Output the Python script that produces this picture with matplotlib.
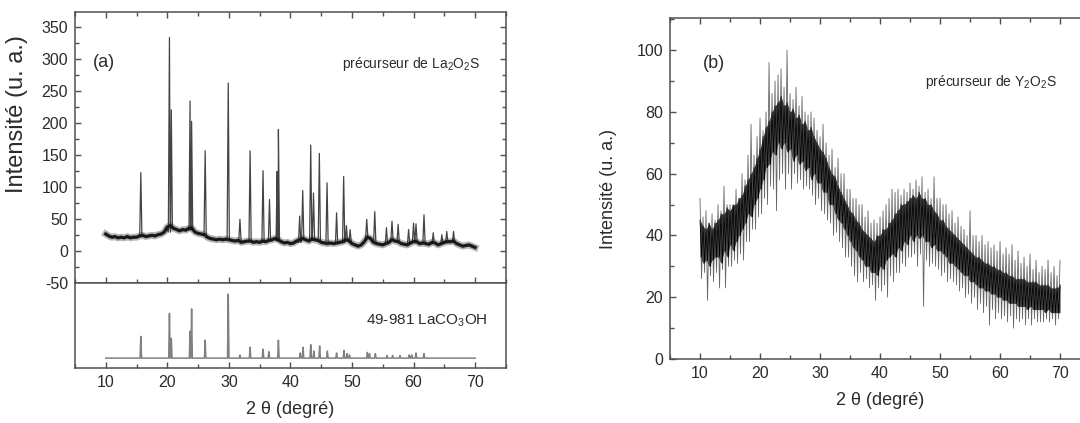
"""Diffractogrammes X des précurseurs La2O2S (a) et Y2O2S (b)."""

import matplotlib
matplotlib.use("Agg")
import matplotlib.pyplot as plt
from matplotlib.ticker import MultipleLocator
import numpy as np

plt.rcParams["font.family"] = ["Liberation Sans", "DejaVu Sans"]
plt.rcParams["mathtext.fontset"] = "custom"
plt.rcParams["mathtext.rm"] = "Liberation Sans"
plt.rcParams["mathtext.it"] = "Liberation Sans:italic"
plt.rcParams["axes.unicode_minus"] = False

TXT = "#2b2b2b"
AX = "#505050"

# ---- (a) précurseur de La2O2S : fond mesuré (pas de 0,5°) ----
base_x = np.arange(10, 70.01, 0.5)
base_y = [27, 24, 22, 23, 21, 22, 21, 23, 21, 22,
          22, 24, 25, 23, 24, 25, 24, 26, 27, 30,
          38, 40, 36, 34, 32, 34, 33, 36, 36, 30,
          28, 27, 26, 22, 20, 19, 18, 19, 18, 19,
          18, 17, 16, 17, 14, 15, 16, 16, 14, 15,
          14, 16, 15, 17, 18, 20, 18, 15, 13, 14,
          12, 13, 16, 18, 20, 18, 16, 19, 18, 17,
          14, 13, 12, 13, 12, 13, 14, 15, 18, 17,
          12, 10, 8, 10, 15, 22, 20, 14, 12, 11,
          10, 12, 14, 18, 16, 15, 12, 11, 10, 13,
          15, 15, 12, 13, 12, 11, 14, 13, 10, 12,
          14, 15, 15, 16, 12, 10, 8, 9, 10, 8,
          6]

# pics mesurés : position, sommet, niveau du pied
peak_x = [15.7, 20.35, 20.65, 23.7, 23.95, 26.15, 29.9, 31.8, 33.45, 35.55,
          36.6, 37.85, 38.05, 41.5, 42.0, 43.3, 43.75, 44.7, 45.95, 47.5,
          48.65, 49.1, 49.7, 52.4, 53.7, 55.6, 56.5, 57.5, 59.2, 60.0,
          60.4, 61.7, 63.2, 64.6, 65.4, 66.5]
peak_h = [123, 334, 221, 235, 203, 157, 263, 50, 157, 126,
          81, 125, 190, 55, 95, 166, 91, 153, 107, 60,
          117, 40, 34, 50, 62, 37, 47, 42, 34, 44,
          43, 57, 29, 26, 31, 31]
peak_foot = [23, 30, 36, 33, 34, 26, 19, 16, 15, 15,
             16, 17, 16, 14, 18, 18, 18, 16, 13, 12,
             14, 16, 14, 22, 15, 12, 18, 15, 12, 15,
             15, 14, 12, 12, 14, 14]

# fiche 49-981 LaCO3OH (intensités relatives)
ref_x = [15.7, 20.35, 20.65, 23.7, 23.95, 26.15, 29.9, 31.8, 33.45, 35.55,
         36.5, 38.05, 41.6, 42.05, 43.3, 43.8, 44.75, 46.0, 47.5, 48.7,
         49.2, 49.6, 52.5, 52.85, 53.8, 55.7, 56.6, 57.8, 59.3, 59.7,
         60.4, 61.7]
ref_h = [34, 70, 31, 42, 77, 28, 100, 5, 17, 14,
         10, 28, 8, 17, 21, 11, 19, 11, 8, 12,
         7, 5, 9, 7, 7, 4, 4, 4, 5, 5,
         8, 7]

# ---- (b) précurseur de Y2O2S (pas de 0,5°) ----
y_x = np.arange(10, 70.01, 0.5)
core_lo = [33, 31, 32, 30, 32, 33, 33, 31, 35, 33,
           37, 35, 38, 40, 42, 44, 47, 46, 50, 52,
           55, 58, 62, 63, 67, 66, 70, 68, 70, 67,
           68, 64, 66, 63, 64, 61, 62, 58, 60, 57,
           57, 54, 54, 50, 50, 47, 45, 44, 42, 40,
           38, 36, 35, 33, 32, 30, 30, 28, 28, 27,
           30, 29, 32, 33, 34, 33, 36, 35, 38, 37,
           40, 38, 40, 39, 40, 38, 38, 36, 37, 35,
           35, 34, 33, 31, 31, 30, 29, 28, 27, 27,
           25, 25, 24, 23, 23, 22, 22, 21, 21, 20,
           20, 19, 19, 18, 18, 18, 17, 17, 17, 16,
           17, 16, 16, 16, 16, 15, 16, 15, 15, 15,
           15]
core_hi = [45, 43, 42, 44, 42, 44, 45, 47, 47, 49,
           48, 50, 50, 52, 53, 56, 58, 60, 62, 65,
           68, 72, 75, 77, 80, 82, 83, 85, 82, 83,
           80, 81, 78, 79, 76, 77, 74, 75, 72, 70,
           68, 67, 65, 62, 60, 59, 56, 54, 52, 50,
           48, 47, 45, 44, 42, 41, 40, 39, 38, 40,
           40, 42, 42, 44, 45, 47, 48, 50, 50, 51,
           52, 53, 52, 54, 52, 52, 50, 50, 48, 47,
           45, 45, 43, 42, 41, 40, 39, 38, 37, 36,
           35, 34, 33, 33, 32, 31, 31, 30, 30, 29,
           29, 28, 28, 27, 27, 26, 26, 26, 26, 25,
           25, 25, 25, 24, 24, 24, 24, 23, 23, 23,
           24]
spike_hi = [52, 46, 48, 44, 47, 45, 50, 48, 56, 50,
            50, 48, 55, 52, 60, 58, 66, 76, 66, 72,
            78, 74, 80, 96, 86, 90, 92, 94, 88, 100,
            86, 84, 88, 82, 85, 80, 79, 80, 78, 74,
            72, 76, 70, 66, 68, 62, 65, 60, 60, 55,
            55, 52, 52, 50, 50, 46, 48, 44, 45, 44,
            46, 48, 50, 52, 55, 54, 55, 53, 55, 54,
            57, 55, 58, 56, 59, 54, 55, 52, 59, 52,
            52, 50, 50, 47, 48, 44, 46, 43, 42, 40,
            48, 40, 40, 38, 40, 37, 38, 36, 37, 35,
            38, 34, 36, 34, 37, 32, 35, 31, 33, 30,
            34, 29, 32, 28, 30, 29, 32, 28, 30, 27,
            32]
spike_lo = [26, 28, 19, 27, 25, 28, 23, 29, 23, 30,
            30, 32, 31, 34, 32, 38, 38, 42, 42, 46,
            47, 52, 50, 56, 55, 48, 58, 60, 55, 60,
            55, 60, 57, 58, 55, 56, 55, 53, 50, 52,
            48, 47, 45, 44, 40, 41, 38, 36, 33, 33,
            30, 27, 25, 28, 25, 26, 23, 24, 19, 23,
            22, 24, 20, 27, 25, 28, 28, 31, 30, 33,
            33, 34, 30, 34, 17, 32, 30, 31, 30, 29,
            27, 28, 25, 26, 25, 24, 22, 23, 20, 21,
            18, 20, 16, 18, 15, 17, 11, 16, 13, 15,
            13, 14, 12, 14, 10, 13, 12, 13, 11, 13,
            11, 13, 12, 12, 12, 13, 12, 13, 11, 13,
            14]


def build_trace(bx, by, px, ph, pf, w):
    """Assemble fond + pics étroits (triangles) en une seule polyligne."""
    pts = [(x, y) for x, y in zip(bx, by)
           if all(abs(x - p) > w for p in px)]
    for x, h, f in zip(px, ph, pf):
        pts += [(x - w, f), (x, h), (x + w, f)]
    pts.sort(key=lambda p: p[0])
    return [p[0] for p in pts], [p[1] for p in pts]


def zigzag(xs, hi, lo, step):
    """Trace bruité : alterne maximum (sur x) et minimum (sur x + step)."""
    zx, zy = [], []
    for x, h, l in zip(xs, hi, lo):
        zx += [x, x + step]
        zy += [h, l]
    return zx[:-1], zy[:-1]


def style_axis(ax):
    for sp in ax.spines.values():
        sp.set_color(AX)
        sp.set_linewidth(1.1)
    ax.tick_params(which="both", direction="in", colors=AX, labelcolor=TXT,
                   labelsize=11.5, width=1.0, pad=5)
    ax.tick_params(which="major", length=4)
    ax.tick_params(which="minor", length=3)


fig = plt.figure(figsize=(10.8, 4.23), dpi=100)

# ---- panneau (a), partie haute ----
ax_a = fig.add_axes([0.0694, 0.3303, 0.399, 0.6414])
tx, ty = build_trace(base_x, base_y, peak_x, peak_h, peak_foot, 0.18)
ax_a.plot(tx, ty, color="#444444", lw=0.9)
ax_a.plot(base_x, base_y, color="#333333", lw=5.0, alpha=0.35,
          solid_joinstyle="round")
ax_a.plot(base_x, base_y, color="#111111", lw=2.4, alpha=0.9,
          solid_joinstyle="round")
ax_a.set_xlim(5, 75)
ax_a.set_ylim(-50, 374)
ax_a.xaxis.set_major_locator(MultipleLocator(10))
ax_a.xaxis.set_minor_locator(MultipleLocator(5))
ax_a.yaxis.set_major_locator(MultipleLocator(50))
ax_a.yaxis.set_minor_locator(MultipleLocator(25))
style_axis(ax_a)
ax_a.tick_params(which="both", top=True, right=True, labelbottom=False)
ax_a.set_ylabel("Intensité (u. a.)", fontsize=17, color=TXT)
ax_a.yaxis.set_label_coords(-0.109, 0.624)
ax_a.text(7.9, 295, "(a)", fontsize=13, color=TXT, va="center")
ax_a.text(70.9, 293, r"précurseur de La$_2$O$_2$S", fontsize=10, color=TXT,
          ha="right", va="center")

# ---- panneau (a), fiche de référence ----
ax_r = fig.add_axes([0.0694, 0.1307, 0.399, 0.1995])
rx, ry = build_trace([10, 70], [0, 0], ref_x, ref_h, [0] * len(ref_x), 0.12)
ax_r.plot(rx, ry, color="#808080", lw=1.1)
ax_r.set_xlim(5, 75)
ax_r.set_ylim(-15, 117)
ax_r.xaxis.set_major_locator(MultipleLocator(10))
ax_r.xaxis.set_minor_locator(MultipleLocator(5))
ax_r.set_yticks([])
style_axis(ax_r)
ax_r.tick_params(which="both", left=False, right=False)
ax_r.set_xlabel("2 θ (degré)", fontsize=13, color=TXT, labelpad=8)
ax_r.text(52.2, 58, r"49-981 LaCO$_3$OH", fontsize=11, color=TXT, va="center")

# ---- panneau (b) ----
ax_b = fig.add_axes([0.6204, 0.1513, 0.3889, 0.806])
zx, zy = zigzag(y_x, spike_hi, spike_lo, 0.25)
ax_b.plot(zx, zy, color="#666666", lw=0.6)
ax_b.fill_between(y_x, core_lo, core_hi, color="#111111", alpha=0.85, lw=0)
zx, zy = zigzag(y_x, core_hi, core_lo, 0.25)
ax_b.plot(zx, zy, color="#000000", lw=0.6)
ax_b.set_xlim(5, 75)
ax_b.set_ylim(0, 110.4)
ax_b.xaxis.set_major_locator(MultipleLocator(10))
ax_b.xaxis.set_minor_locator(MultipleLocator(5))
ax_b.yaxis.set_major_locator(MultipleLocator(20))
ax_b.yaxis.set_minor_locator(MultipleLocator(10))
style_axis(ax_b)
ax_b.tick_params(which="both", top=True, right=True)
ax_b.set_ylabel("Intensité (u. a.)", fontsize=13, color=TXT, labelpad=14)
ax_b.set_xlabel("2 θ (degré)", fontsize=13, color=TXT, labelpad=8)
ax_b.text(10.5, 95.8, "(b)", fontsize=13, color=TXT, va="center")
ax_b.text(69.5, 89.7, r"précurseur de Y$_2$O$_2$S", fontsize=10, color=TXT,
          ha="right", va="center")

fig.savefig("out.png", dpi=100)
